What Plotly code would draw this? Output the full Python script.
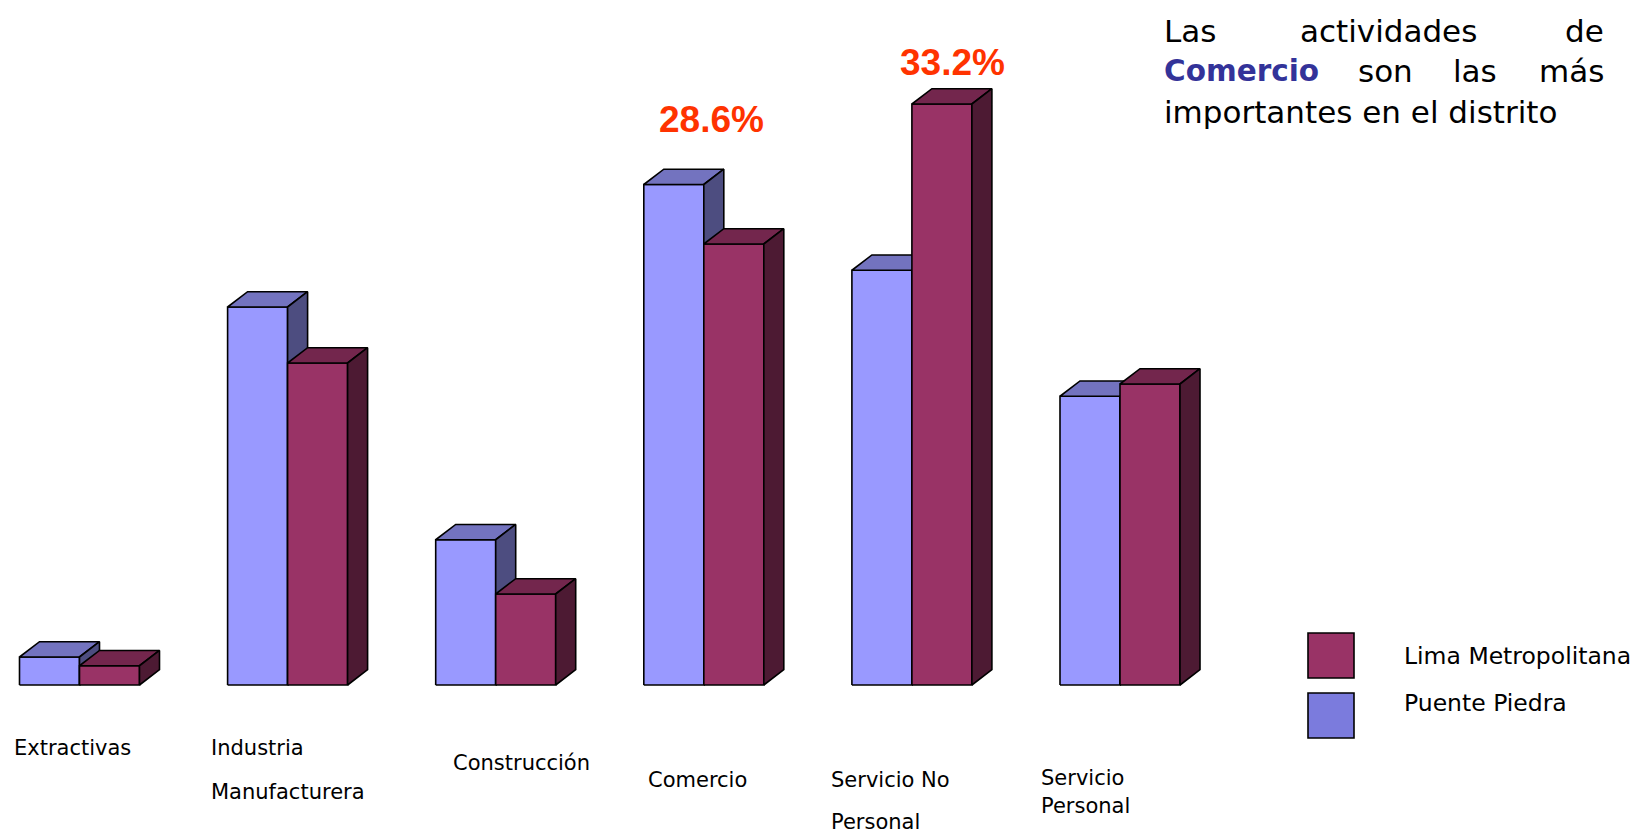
import plotly.graph_objects as go

# ---------------- data ----------------
categories = ["Extractivas", "Industria Manufacturera", "Construcción",
              "Comercio", "Servicio No Personal", "Servicio Personal"]
puente_piedra = [1.6, 21.6, 8.3, 28.6, 23.7, 16.5]      # % (blue)
lima_metropolitana = [1.1, 18.4, 5.2, 25.2, 33.2, 17.2]  # % (purple)
series_names = ["Lima Metropolitana", "Puente Piedra"]
category_label_lines = [["Extractivas"], ["Industria", "Manufacturera"], ["Construcción"],
                        ["Comercio"], ["Servicio No", "Personal"], ["Servicio", "Personal"]]

# ---------------- geometry / style ----------------
W, H = 1640, 833
PX_PER_UNIT_X = 208.1
PX_PER_PCT = 17.5
BASE_PX = 685
X0_PX = 79.5
BAR_W = 60 / PX_PER_UNIT_X
DX = 20 / PX_PER_UNIT_X
DY = 15.3 / PX_PER_PCT

ymax = BASE_PX / PX_PER_PCT
ymin = ymax - H / PX_PER_PCT
xmin = -X0_PX / PX_PER_UNIT_X
xmax = xmin + W / PX_PER_UNIT_X

blue = dict(front="#9999FF", top="#7373BF", side="#4D4D80")
red = dict(front="#993366", top="#73264D", side="#4D1A33")

def faces(values, offset):
    fx, fy, tx, ty, sx, sy = [], [], [], [], [], []
    for i, h in enumerate(values):
        L = i + offset
        R = L + BAR_W
        fx += [L, R, R, L, L, None]; fy += [0, 0, h, h, 0, None]
        tx += [L, R, R + DX, L + DX, L, None]; ty += [h, h, h + DY, h + DY, h, None]
        sx += [R, R + DX, R + DX, R, R, None]; sy += [0, DY, h + DY, h, 0, None]
    return (fx, fy), (tx, ty), (sx, sy)

fig = go.Figure()
for vals, off, col, name in [(puente_piedra, -BAR_W, blue, "Puente Piedra"),
                             (lima_metropolitana, 0.0, red, "Lima Metropolitana")]:
    f, t, s = faces(vals, off)
    for (xs, ys), c in [(f, col["front"]), (t, col["top"]), (s, col["side"])]:
        fig.add_trace(go.Scatter(x=xs, y=ys, mode="lines", fill="toself",
                                 fillcolor=c, line=dict(color="black", width=1.6),
                                 name=name, showlegend=False, hoverinfo="skip"))

def px2paper(xp, yp):
    return xp / W, 1 - yp / H

annotations = []
label_font = dict(family="DejaVu Sans", size=21, color="black")
label_pos = [(12, [748]), (209, [748, 791.7]), (451, [763]), (646, [780]),
             (829, [780, 821.7]), (1039, [778, 806])]
for lines, (xp, yps) in zip(category_label_lines, label_pos):
    for txt, yp in zip(lines, yps):
        xpp, ypp = px2paper(xp, yp)
        annotations.append(dict(x=xpp, y=ypp, xref="paper", yref="paper", text=txt,
                                showarrow=False, xanchor="left", yanchor="middle",
                                font=label_font))

# highlighted percentages
for val, (xp, yp) in [(puente_piedra[3], (711, 120)), (lima_metropolitana[4], (953, 62))]:
    xpp, ypp = px2paper(xp, yp)
    annotations.append(dict(x=xpp, y=ypp, xref="paper", yref="paper",
                            text=f"<b>{val}%</b>", showarrow=False,
                            xanchor="center", yanchor="middle",
                            font=dict(family="Liberation Sans", size=37, color="#FF3300")))

# justified note text
title_font = dict(family="DejaVu Sans", size=31, color="black")
words = [("Las", 1162, 31, "left", None), ("actividades", 1388, 31, "center", None),
         ("de", 1606, 31, "right", None),
         ("<b>Comercio</b>", 1162, 71.5, "left", "#333399"), ("son", 1385, 71.5, "center", None),
         ("las", 1474.5, 71.5, "center", None), ("más", 1606, 71.5, "right", None),
         ("importantes en el distrito", 1162, 111.5, "left", None)]
for txt, xp, yp, anc, col in words:
    xpp, ypp = px2paper(xp, yp)
    f = dict(title_font)
    if col:
        f["color"] = col
        f["size"] = 29.5
    annotations.append(dict(x=xpp, y=ypp, xref="paper", yref="paper", text=txt,
                            showarrow=False, xanchor=anc, yanchor="middle", font=f))

# custom legend
shapes = []
legend_items = [("Lima Metropolitana", "#993366", 633, 678, 656),
                ("Puente Piedra", "#7B7BDD", 693, 738, 703)]
for name, col, y0, y1, yt in legend_items:
    shapes.append(dict(type="rect", xref="paper", yref="paper",
                       x0=1308 / W, x1=1354 / W, y0=1 - y1 / H, y1=1 - y0 / H,
                       fillcolor=col, line=dict(color="black", width=1.6)))
    xpp, ypp = px2paper(1402, yt)
    annotations.append(dict(x=xpp, y=ypp, xref="paper", yref="paper", text=name,
                            showarrow=False, xanchor="left", yanchor="middle",
                            font=dict(family="DejaVu Sans", size=23.5, color="black")))

fig.update_layout(
    width=W, height=H,
    margin=dict(l=0, r=0, t=0, b=0),
    paper_bgcolor="white", plot_bgcolor="white",
    xaxis=dict(range=[xmin, xmax], visible=False, fixedrange=True),
    yaxis=dict(range=[ymin, ymax], visible=False, fixedrange=True),
    showlegend=False,
    annotations=annotations, shapes=shapes,
)
fig.write_html("out.html", config={"displayModeBar": False},
               post_script="document.body.style.margin='0';document.body.style.padding='0';")
